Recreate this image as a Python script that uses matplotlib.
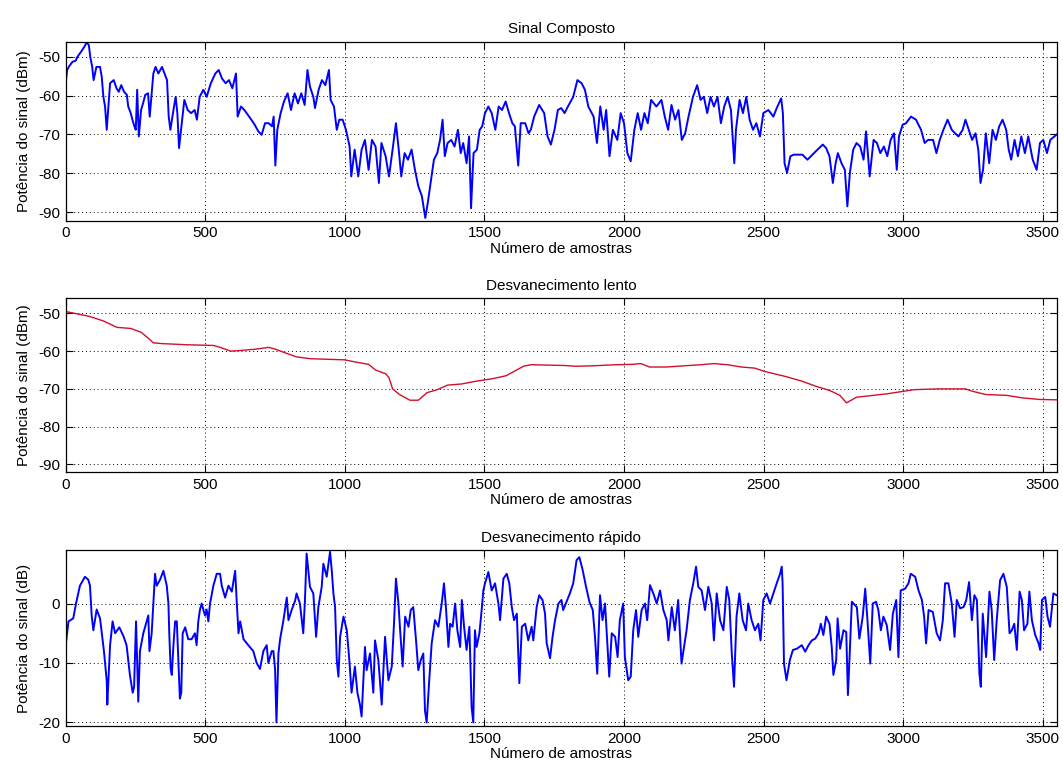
import numpy as np
import matplotlib.pyplot as plt

plt.rcParams['font.family'] = ['Liberation Sans', 'DejaVu Sans']
plt.rcParams['axes.unicode_minus'] = False

# Sinal composto (dBm)
amostras_comp = [0, 5, 11, 24, 36, 42, 55, 67, 75, 83, 88, 95, 100, 110, 123, 129, 135, 141, 147, 153,
                 159, 172, 182, 190, 199, 209, 219, 224, 233, 239, 246, 251, 256, 262, 270, 277, 285, 295, 301, 314,
                 322, 332, 345, 354, 363, 369, 375, 388, 394, 400, 406, 416, 425, 437, 449, 462, 470, 480, 493, 505,
                 520, 536, 548, 560, 573, 585, 597, 610, 616, 628, 640, 653, 665, 677, 690, 702, 714, 727, 739, 745,
                 751, 758, 770, 782, 795, 807, 820, 832, 844, 856, 866, 875, 887, 893, 906, 918, 930, 943, 949, 961,
                 971, 980, 992, 1004, 1017, 1023, 1035, 1048, 1060, 1072, 1085, 1097, 1110, 1122, 1131, 1146, 1158, 1171, 1183, 1193,
                 1202, 1214, 1226, 1239, 1251, 1263, 1276, 1288, 1297, 1307, 1319, 1331, 1341, 1350, 1358, 1368, 1381, 1393, 1405, 1415,
                 1424, 1436, 1445, 1452, 1461, 1473, 1483, 1492, 1502, 1514, 1526, 1539, 1551, 1563, 1576, 1588, 1600, 1609, 1621, 1630,
                 1646, 1658, 1666, 1678, 1696, 1714, 1726, 1738, 1751, 1763, 1775, 1787, 1799, 1818, 1833, 1848, 1860, 1872, 1891, 1903,
                 1915, 1927, 1936, 1948, 1960, 1976, 1988, 2000, 2012, 2024, 2037, 2049, 2061, 2073, 2085, 2097, 2116, 2134, 2146, 2158,
                 2170, 2183, 2195, 2207, 2219, 2231, 2247, 2262, 2274, 2286, 2298, 2310, 2322, 2335, 2347, 2359, 2371, 2383, 2395, 2401,
                 2414, 2426, 2438, 2450, 2462, 2474, 2487, 2499, 2517, 2535, 2547, 2563, 2569, 2575, 2584, 2596, 2608, 2639, 2657, 2675,
                 2693, 2712, 2724, 2736, 2748, 2758, 2766, 2779, 2791, 2800, 2809, 2821, 2833, 2846, 2858, 2867, 2880, 2894, 2906, 2918,
                 2931, 2943, 2955, 2967, 2977, 2985, 2998, 3010, 3028, 3046, 3064, 3077, 3089, 3107, 3119, 3131, 3144, 3159, 3174, 3186,
                 3198, 3213, 3223, 3235, 3247, 3259, 3269, 3277, 3286, 3296, 3308, 3320, 3332, 3344, 3356, 3369, 3378, 3387, 3399, 3411,
                 3423, 3436, 3448, 3464, 3478, 3490, 3502, 3515, 3527, 3550]
composto = [-57, -53.4, -52.6, -51.3, -51, -50, -48.7, -47.4, -46.3, -47, -50, -52.6, -56, -52.6, -52.6, -55.1, -60.3, -62.8, -68.8, -62.8,
            -56.8, -56, -58.1, -59, -57.3, -59, -59.8, -62.8, -64.5, -66.2, -67.9, -68.8, -58.5, -70.5, -63.7, -62, -59.8, -59.4, -65.4, -54.3,
            -52.6, -54.3, -52.6, -54.3, -56, -65.4, -68.8, -62.8, -60.3, -64.5, -73.5, -67.1, -61.1, -63.7, -64.5, -63.7, -66.2, -60.3, -58.5, -60.3,
            -56.8, -54.3, -53.4, -55.6, -56.8, -56, -58.1, -54.3, -65.4, -62.8, -63.7, -65, -66.2, -67.5, -69.2, -70.1, -67.1, -67.1, -67.9, -65.4,
            -78, -68.8, -64.5, -61.5, -59.4, -63.7, -59.4, -62, -59.4, -62.4, -53.4, -57.7, -60.3, -63.2, -58.5, -56, -57.3, -53.4, -61.1, -62.8,
            -68.8, -66.2, -66.2, -68.8, -73.1, -80.8, -73.9, -80.8, -73.9, -71.4, -79.1, -71.4, -73.1, -82.5, -72.2, -75.6, -80.8, -73.9, -67.1, -73.9,
            -80.8, -74.8, -76.5, -73.9, -79.1, -83.3, -85.9, -91.5, -87.6, -82.5, -76.5, -74.8, -71.4, -66.2, -75.6, -72.2, -71.4, -73.1, -68.8, -74.8,
            -72.2, -77.4, -70.5, -89, -74.8, -73.9, -68.8, -67.9, -64.5, -62.8, -64.5, -68.8, -62.8, -63.7, -61.5, -64.5, -67.1, -67.9, -78, -67.1,
            -67.1, -69.7, -68.8, -65.4, -62.4, -64.5, -70.5, -72.6, -68.8, -63.7, -63.2, -64.5, -62.8, -60.3, -56, -56.8, -58.5, -62.8, -65.4, -72.2,
            -62.8, -68.8, -63.7, -75.6, -68.8, -71.4, -64.5, -67.1, -74.8, -76.9, -68.8, -64.5, -68.8, -64.5, -67.1, -61.1, -62.8, -61.1, -65.4, -68.8,
            -62.4, -66.2, -63.7, -71.4, -69.7, -65.4, -60.3, -57.3, -61.1, -60.3, -64.5, -60.3, -62.8, -60.3, -67.1, -62.8, -60.3, -63.7, -77.4, -68.8,
            -61.1, -64.5, -60.3, -66.2, -68.8, -67.1, -70.5, -64.5, -63.7, -65.4, -63.2, -60.7, -64.5, -77.4, -79.9, -75.6, -75.2, -75.2, -76.5, -75.2,
            -73.9, -72.6, -73.5, -75.6, -82.5, -77.4, -74.8, -77.4, -79.1, -88.5, -79.9, -73.9, -72.2, -73.1, -76.5, -69.2, -80.8, -71.4, -72.2, -74.8,
            -73.1, -75.6, -71.4, -69.7, -79.1, -70.5, -67.5, -67.1, -65.4, -66.2, -68.8, -72.2, -71.4, -71.4, -74.8, -71.4, -68.8, -66.2, -68.8, -69.7,
            -70.5, -68.8, -66.2, -68.8, -71.4, -69.7, -73.9, -82.5, -79.1, -69.7, -77.4, -68.8, -71.4, -67.9, -66.2, -68.8, -73.9, -76.5, -71.4, -75.6,
            -70.5, -74.8, -70.5, -76.5, -79.1, -72.2, -71.4, -74.8, -71.4, -70]

# Desvanecimento lento (dBm)
amostras_lento = [0, 85, 135, 184, 234, 270, 295, 314, 345, 431, 530, 554, 591, 628, 678, 727, 752, 788, 826, 875,
                  998, 1047, 1085, 1110, 1146, 1158, 1171, 1196, 1233, 1263, 1294, 1331, 1368, 1418, 1467, 1529, 1578, 1615, 1640, 1666,
                  1787, 1824, 1884, 1970, 2030, 2061, 2091, 2152, 2213, 2274, 2322, 2371, 2420, 2468, 2505, 2578, 2639, 2687, 2736, 2773,
                  2797, 2833, 2882, 2943, 3004, 3040, 3125, 3223, 3247, 3296, 3369, 3429, 3490, 3550]
lento = [-49.5, -50.8, -52, -53.7, -54, -55, -56.5, -57.8, -58, -58.3, -58.5, -59, -60, -59.8, -59.5, -59, -59.5, -60.5, -61.5, -62,
         -62.3, -63, -63.5, -65, -66, -67, -70, -71.5, -73, -73, -71, -70.2, -69, -68.7, -68, -67.3, -66.5, -65, -64, -63.6,
         -63.8, -64, -63.9, -63.6, -63.5, -63.3, -64.2, -64.2, -63.9, -63.6, -63.3, -63.6, -64.2, -64.5, -65.4, -66.7, -68, -69.3, -70.4, -71.7,
         -73.7, -72.2, -71.8, -71.3, -70.6, -70.2, -70, -70, -70.6, -71.5, -71.7, -72.4, -72.8, -72.9]

# Desvanecimento rapido (dB)
amostras_rapido = [0, 10, 27, 37, 51, 69, 81, 87, 93, 99, 111, 123, 137, 147, 149, 159, 168, 177, 192, 207,
                   218, 225, 230, 240, 245, 252, 260, 266, 278, 290, 296, 300, 308, 320, 326, 338, 350, 362, 368, 371,
                   376, 380, 386, 392, 398, 404, 409, 414, 419, 428, 439, 451, 463, 469, 475, 481, 487, 499, 505, 511,
                   517, 529, 541, 553, 559, 571, 583, 595, 607, 613, 619, 625, 637, 654, 672, 684, 696, 708, 720, 726,
                   738, 744, 750, 755, 762, 768, 780, 792, 798, 810, 822, 827, 839, 851, 857, 863, 869, 875, 887, 897,
                   905, 917, 923, 935, 947, 953, 959, 965, 971, 977, 983, 995, 1007, 1016, 1024, 1036, 1045, 1054, 1060, 1072,
                   1078, 1090, 1102, 1108, 1120, 1132, 1144, 1156, 1168, 1176, 1183, 1192, 1198, 1207, 1216, 1228, 1236, 1245, 1255, 1263,
                   1272, 1281, 1287, 1293, 1303, 1311, 1323, 1335, 1347, 1355, 1362, 1371, 1377, 1386, 1395, 1403, 1413, 1419, 1427, 1436,
                   1446, 1454, 1460, 1466, 1472, 1482, 1490, 1496, 1502, 1514, 1526, 1538, 1550, 1556, 1568, 1580, 1589, 1598, 1606, 1616,
                   1625, 1634, 1646, 1657, 1669, 1675, 1687, 1696, 1708, 1717, 1723, 1735, 1744, 1753, 1765, 1776, 1782, 1794, 1806, 1818,
                   1830, 1840, 1852, 1864, 1876, 1888, 1896, 1904, 1914, 1923, 1932, 1938, 1947, 1956, 1968, 1977, 1985, 1997, 2003, 2015,
                   2024, 2033, 2043, 2051, 2063, 2075, 2083, 2093, 2105, 2117, 2129, 2141, 2153, 2159, 2171, 2182, 2194, 2206, 2215, 2224,
                   2236, 2248, 2258, 2266, 2278, 2290, 2302, 2314, 2322, 2332, 2344, 2356, 2368, 2377, 2386, 2394, 2403, 2413, 2425, 2437,
                   2445, 2457, 2469, 2481, 2489, 2499, 2511, 2523, 2535, 2547, 2559, 2565, 2568, 2573, 2582, 2594, 2605, 2619, 2637, 2649,
                   2661, 2673, 2685, 2697, 2705, 2714, 2724, 2736, 2744, 2750, 2760, 2765, 2774, 2786, 2796, 2802, 2810, 2816, 2834, 2843,
                   2855, 2864, 2872, 2882, 2891, 2903, 2911, 2920, 2929, 2941, 2953, 2963, 2975, 2983, 2991, 3007, 3019, 3027, 3043, 3055,
                   3067, 3075, 3082, 3091, 3106, 3120, 3132, 3142, 3150, 3162, 3174, 3184, 3192, 3204, 3216, 3226, 3236, 3246, 3255, 3264,
                   3273, 3278, 3285, 3297, 3309, 3317, 3326, 3335, 3347, 3359, 3371, 3381, 3389, 3398, 3407, 3417, 3425, 3433, 3445, 3452,
                   3461, 3473, 3485, 3491, 3497, 3509, 3517, 3526, 3538, 3550]
rapido = [-7, -3, -2.5, 0, 3, 4.5, 4, 3, -2, -4.5, -1, -2.5, -8, -13, -17, -7, -3, -5, -4, -5.5,
          -7, -10, -12, -15, -14, -3, -16.5, -8, -5, -3, -2, -8, -5, 5, 3, 4, 5.5, 3, 0, -5,
          -11, -12, -7, -3, -3, -10, -16, -15, -5, -4, -6, -6, -5, -7, -3, -1, 0, -2, -1, -3,
          0, 3, 5, 5, 3, 1, 3, 2, 5.5, 0, -5, -3, -6, -7, -8, -10, -11, -8, -7, -10,
          -8, -8, -11, -20, -8.4, -6, -2.8, 1, -2.8, -1, 0.5, 1.7, 0, -5, 0.5, 8.4, 5.6, 2.8, 1.7, -5.6,
          -0.6, 2.8, 6.7, 4.5, 8.7, 5.6, 1.7, -0.6, -9.5, -12.3, -5.6, -2.2, -4.5, -9.5, -15, -10.6, -15, -17, -19, -7.3,
          -11.2, -8.4, -15, -6.2, -9.5, -17, -5.6, -12.9, -10.6, -3.4, 4.2, 0, -4.5, -10.6, -2.2, -3.9, -1.1, -0.6, -6.2, -11.2,
          -9.5, -8.4, -18, -20, -12.3, -6.7, -2.8, -3.9, 0, 3.4, -0.6, -7.3, -3.4, -3.9, 0, -4.5, -7.3, 0.6, -3.9, -7.8,
          -3.9, -17.4, -20, -4.5, -7.3, -5, -1.1, 2.2, 3.4, 5.3, 2.2, 3.4, 0, -2.8, 4.2, 5, 3.4, -0.6, -2.8, -1.7,
          -13.4, -3.9, -3.4, -6.2, -3.9, -6.2, -0.6, 1.4, 0.6, -1.7, -6.7, -9.2, -5.6, -2.8, 0, 0.6, -1.1, 0.3, 1.7, 3.4,
          7.3, 7.8, 5.6, 2.8, 0.3, -1.1, -5.6, -11.8, 1.4, -2.8, 0, -5, -12.3, -5, -5.6, -9, -2.8, 0, -9, -12.9,
          -12.3, -4.5, -1.1, -5.6, -1.1, 0, -2.8, 3.1, 1.7, 0, 2.2, -1.1, -2.8, -6.2, -0.6, -4.5, 0.6, -10.1, -7.3, -4.5,
          0.6, 3.4, 6.2, 2.8, 2.2, -1.1, 2.8, 0, -6.2, 1.7, -2.8, -4.5, 2.8, 0.6, -8.4, -14, -2.2, 1.7, -2.8, -4.5,
          0, -2.8, -4.5, -3.4, -6.2, 0.6, 1.7, 0, 1.7, 3.4, 5, 6.2, 3.4, -10.1, -12.9, -9.5, -7.8, -7.6, -7, -8.1,
          -7, -6.2, -5.9, -5, -3.4, -5.3, -2.2, -3.4, -7.3, -12, -9.5, -2.5, -7.6, -4.5, -4.8, -15.4, -6.7, 0.3, -0.6, -5.9,
          -2.2, 2.5, -2.8, -10.1, 0, 0.3, -1.1, -4.5, -2.2, -3.6, -7.8, -1.7, 0.6, -9, 2.2, 2.5, 3.4, 5, 4.5, 2.2,
          0.6, -2.2, -6.7, -1.1, -1.4, -5, -6.2, -2.8, 3.4, 3.4, 0, -5.6, 0.6, -0.8, -0.6, 0.6, 3.6, -2.8, 1.4, 0.6,
          -11.8, -14, -1.7, -9, 2, -1.1, -9.5, -2.8, 3.9, 5, 2.8, -5, -4.5, -3.4, -7.8, 2, 0.6, -4.5, -3.4, 2,
          -2.8, -5.3, -6.7, -7.8, 0.6, 1.1, -2.2, -3.9, 1.7, 1.4]

xticks = [0, 500, 1000, 1500, 2000, 2500, 3000, 3500]
xlim = (0, 3550)

fig = plt.figure(figsize=(10.63, 7.70), dpi=100)
ax1 = fig.add_axes([0.0618, 0.7134, 0.9323, 0.2325])
ax2 = fig.add_axes([0.0618, 0.3866, 0.9323, 0.2260])
ax3 = fig.add_axes([0.0618, 0.0571, 0.9323, 0.2286])

ax1.plot(amostras_comp, composto, color='#0000ff', lw=1.4)
ax2.plot(amostras_lento, lento, color='#d0102c', lw=1.0)
ax3.plot(amostras_rapido, rapido, color='#0000ff', lw=1.4)

paineis = [
    (ax1, 'Sinal Composto', 'Potência do sinal (dBm)', (-92.2, -46.1), [-90, -80, -70, -60, -50]),
    (ax2, 'Desvanecimento lento', 'Potência do sinal (dBm)', (-92.1, -46.0), [-90, -80, -70, -60, -50]),
    (ax3, 'Desvanecimento rápido', 'Potência do sinal (dB)', (-20.6, 9.0), [-20, -10, 0]),
]

for ax, titulo, ylab, ylim, yticks in paineis:
    ax.set_xlim(*xlim)
    ax.set_ylim(*ylim)
    ax.set_xticks(xticks)
    ax.set_yticks(yticks)
    ax.grid(True, color='black', linestyle=(0, (1, 3)), linewidth=0.7)
    ax.tick_params(direction='in', length=5, width=0.8, top=True, right=True,
                   labelsize=11, pad=4)
    for sp in ax.spines.values():
        sp.set_linewidth(0.9)
    ax.set_title(titulo, fontsize=11, pad=6)
    ax.set_xlabel('Número de amostras', fontsize=11, labelpad=1)
    ax.set_ylabel(ylab, fontsize=11, labelpad=5)

fig.savefig('out.png', dpi=100)
